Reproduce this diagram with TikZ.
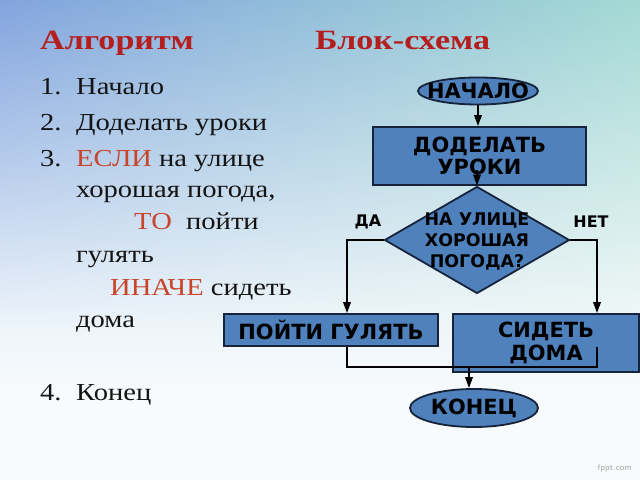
\documentclass[tikz,border=0pt]{standalone}
\usepackage{fontspec}
\setmainfont{Liberation Serif}
\newfontfamily\boxfont{DejaVu Sans}
\usetikzlibrary{shapes.geometric,arrows.meta,calc,shadings}
\definecolor{bgUL}{HTML}{82A4DE}
\definecolor{bgUR}{HTML}{A3D9D4}
\definecolor{bgLL}{HTML}{EEF5FB}
\definecolor{bgLR}{HTML}{F2F8F8}
\definecolor{bgB}{HTML}{F8FBFC}
\definecolor{headred}{HTML}{B51E1E}
\definecolor{keyred}{HTML}{C8452A}
\definecolor{boxblue}{HTML}{4F81BD}
\definecolor{boxline}{HTML}{16233A}
\definecolor{txt}{HTML}{141414}
\newcommand{\wideA}[1]{\scalebox{1.17}[1]{#1}}
\newcommand{\wideH}[1]{\scalebox{1.22}[1]{#1}}
\tikzset{
  heading/.style={font=\fontsize{28}{30}\selectfont\bfseries, text=headred, anchor=base west, inner sep=0},
  item/.style={font=\fontsize{24.5}{28}\selectfont, text=txt, anchor=base west, inner sep=0},
  blockbox/.style={draw=boxline, line width=1.8bp, fill=boxblue, rectangle, inner sep=0,
    font=\boxfont\bfseries\fontsize{21}{22.5}\selectfont, text=black, align=center},
  termbox/.style={draw=boxline, line width=1.8bp, fill=boxblue, ellipse, inner sep=0},
  termtext/.style={font=\boxfont\bfseries\fontsize{21}{22}\selectfont, text=black, inner sep=0},
  decbox/.style={draw=boxline, line width=1.8bp, fill=boxblue, diamond, inner sep=0},
  dectext/.style={font=\boxfont\bfseries\fontsize{17.5}{20.7}\selectfont, text=black, align=center, inner sep=0},
  branchlbl/.style={font=\boxfont\bfseries\fontsize{16}{18}\selectfont, text=black, inner sep=0},
  conn/.style={draw=black, line width=1.8bp},
  arr/.style={conn, -{Triangle[length=11bp,width=7.5bp]}},
}
\begin{document}
\begin{tikzpicture}[x=1bp,y=-1bp]
\useasboundingbox (0,0) rectangle (640,480);
\fill[bgB] (0,0) rectangle (640,480);
\shade[upper left=bgUL, upper right=bgUR, lower left=bgLL, lower right=bgLR] (0,0) rectangle (640,330);
\shade[top color=bgLL, bottom color=bgB] (0,329) rectangle (640,400);

% left column
\node[heading] (h1) at (40,50) {\wideH{Алгоритм}};
\node[heading] (h2) at (315,50) {\wideH{Блок-схема}};
\node[item] (n1) at (40,95) {\wideA{1.}};
\node[item] (t1) at (76,95) {\wideA{Начало}};
\node[item] (n2) at (40,131) {\wideA{2.}};
\node[item] (t2) at (76,131) {\wideA{Доделать уроки}};
\node[item] (n3) at (40,167) {\wideA{3.}};
\node[item] (t3) at (76,167) {\wideA{\textcolor{keyred}{ЕСЛИ} на улице}};
\node[item] (t3b) at (76,198) {\wideA{хорошая погода,}};
\node[item] (t3c) at (134,230) {\wideA{\textcolor{keyred}{ТО}\ \ пойти}};
\node[item] (t3d) at (76,262) {\wideA{гулять}};
\node[item] (t3e) at (110,295) {\wideA{\textcolor{keyred}{ИНАЧЕ} сидеть}};
\node[item] (t3f) at (76,327) {\wideA{дома}};
\node[item] (n4) at (40,400) {\wideA{4.}};
\node[item] (t4) at (76,400) {\wideA{Конец}};

% flowchart
\node[termbox, minimum width=120bp, minimum height=27bp,
  label={[termtext]center:НАЧАЛО}] (start) at (478,91) {};
\node[blockbox, minimum width=213bp, minimum height=58bp] (work) at (479.5,156) {ДОДЕЛАТЬ\\УРОКИ};
\node[decbox, minimum width=185bp, minimum height=107bp] (cond) at (477,240) {};
\node[dectext] (condtxt) at (477,241.5) {НА УЛИЦЕ\\ХОРОШАЯ\\ПОГОДА?};
\node[branchlbl] (yes) at (368,222) {ДА};
\node[branchlbl] (no) at (591,222) {НЕТ};
\node[blockbox, minimum width=214bp, minimum height=32bp] (walk) at (331,330) {ПОЙТИ ГУЛЯТЬ};
\node[blockbox, minimum width=186bp, minimum height=58bp] (sit) at (546,343) {СИДЕТЬ\\ДОМА};
\node[termbox, minimum width=128bp, minimum height=38bp,
  label={[termtext]center:КОНЕЦ}] (finish) at (474,408) {};

\coordinate (wj) at ([xshift=16bp]walk.north);
\coordinate (sj) at ([xshift=51bp]sit.north);
\coordinate (wb) at ([xshift=16bp]walk.south);
\coordinate (mj) at (469,367);
\coordinate (sb) at (597,347);

\draw[arr] (start.south) -- (start.south |- work.north);
\draw[arr] ($(cond.north |- work.south)+(0,-16)$) -- (cond.north);
\draw[arr] (cond.west) -| (wj);
\draw[arr] (cond.east) -| (sj);
\draw[conn] (wb) |- (mj) -| (sb);
\draw[arr] (mj) -- (mj |- finish.north);

\node[font=\fontsize{9}{10}\selectfont\sffamily, text=black!35, anchor=base east, inner sep=0] (wm) at (632,470) {fppt.com};
\end{tikzpicture}
\end{document}
